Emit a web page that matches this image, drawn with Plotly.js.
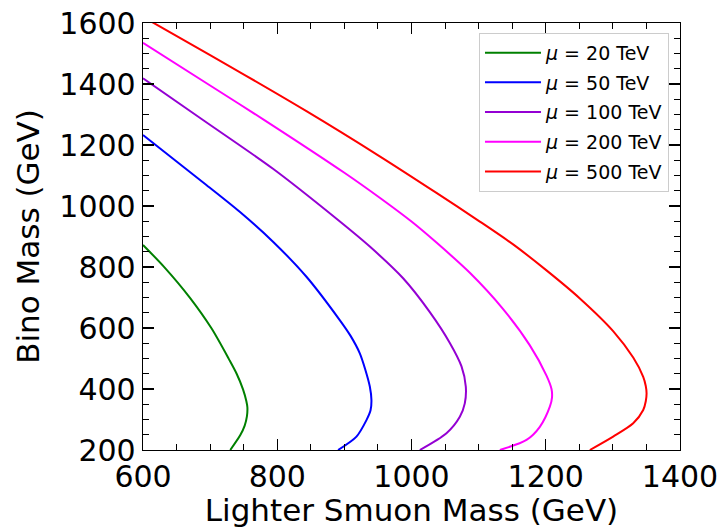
<!DOCTYPE html>
<html>
<head>
<meta charset="utf-8">
<script src="https://cdn.plot.ly/plotly-3.0.1.min.js"></script>
<style>html,body{margin:0;padding:0;background:#fff;}</style>
</head>
<body>
<div id="chart" style="width:721px;height:528px;"></div>
<script>
// Lighter smuon mass (GeV) vs Bino mass (GeV) for each mu
const mu20_x = [600, 632, 670, 702, 728, 739.5, 749, 754, 755.5, 754.8, 751.5, 745, 730];
const mu20_y = [872, 799, 699, 599, 498, 450, 399, 360, 340, 310, 280, 249, 200];

const mu50_x = [600, 694.4, 744.1, 793.7, 843.5, 893.1, 909, 923, 931, 937.9, 940.3, 939, 932.9, 918, 890.6];
const mu50_y = [1233, 1069, 981, 883, 768, 626, 575, 517, 465, 408, 364, 330, 298, 244, 200];

const mu100_x = [600, 689.4, 793.7, 890.6, 937.9, 987.5, 1027.3, 1057.1, 1074.5, 1080.9, 1079.4, 1072, 1052.1, 1012.4];
const mu100_y = [1419, 1282, 1122, 954, 867, 763, 652, 551, 474, 408, 353, 309, 255, 200];

const mu200_x = [600, 700, 781.4, 900, 952.7, 1000, 1037.2, 1086.9, 1136.5, 1176.3, 1201.1, 1208.6, 1209.3, 1206.1, 1191.2, 1171.3, 1131.6];
const mu200_y = [1535, 1395, 1281, 1109, 1027, 949, 880, 781, 662, 543, 444, 400, 372, 342, 276, 233, 200];

const mu500_x = [600, 700, 843.5, 952.7, 1037.2, 1101.8, 1151.4, 1201.1, 1250.8, 1300.4, 1330.3, 1345.2, 1349, 1350.2, 1349, 1345.2, 1330.3, 1300.4, 1265.7];
const mu500_y = [1620, 1495, 1311, 1163, 1043, 949, 874, 789, 697, 590, 503, 440, 410, 386, 360, 331, 287.5, 244, 200];

const seriesNames = ["<i>μ</i> = 20 TeV", "<i>μ</i> = 50 TeV", "<i>μ</i> = 100 TeV", "<i>μ</i> = 200 TeV", "<i>μ</i> = 500 TeV"];
const seriesX = [mu20_x, mu50_x, mu100_x, mu200_x, mu500_x];
const seriesY = [mu20_y, mu50_y, mu100_y, mu200_y, mu500_y];
const colors = ["#008000", "#0000ff", "#9400d3", "#ff00ff", "#ff0000"];

const traces = seriesX.map((xs, i) => ({
  x: xs, y: seriesY[i], type: "scatter", mode: "lines",
  name: seriesNames[i], legendgroup: "g" + i,
  line: {color: colors[i], width: 2, shape: "spline", smoothing: 0.8, simplify: false}
}));

const font = "DejaVu Sans, sans-serif";
const axisCommon = {
  showgrid: false, zeroline: false,
  showline: true, linecolor: "#000", linewidth: 1.3, mirror: "ticks",
  ticks: "inside", ticklen: 11, tickwidth: 1.3, tickcolor: "#000",
  tickfont: {family: font, size: 30, color: "#000"},
  minor: {ticks: "inside", ticklen: 6, tickwidth: 1.1, tickcolor: "#000", dtick: 50, showgrid: false},
  automargin: false
};

const layout = {
  width: 721, height: 528,
  margin: {l: 143, r: 41, t: 23, b: 78},
  paper_bgcolor: "#fff", plot_bgcolor: "#fff",
  showlegend: true,
  xaxis: Object.assign({}, axisCommon, {
    range: [600, 1400], dtick: 200, tick0: 600,
    title: {text: "Lighter Smuon Mass (GeV)", font: {family: font, size: 31, color: "#000"}, standoff: 10}
  }),
  yaxis: Object.assign({}, axisCommon, {
    range: [200, 1600], dtick: 200, tick0: 200,
    title: {text: "Bino Mass (GeV)", font: {family: font, size: 31, color: "#000"}, standoff: 10}
  }),
  legend: {
    x: 0.9795, y: 0.977, xanchor: "right", yanchor: "top",
    bgcolor: "rgba(255,255,255,0.8)", bordercolor: "#cccccc", borderwidth: 1,
    font: {family: font, size: 19, color: "#000"},
    itemwidth: 56,
    traceorder: "grouped", tracegroupgap: 2
  }
};

Plotly.newPlot("chart", traces, layout, {displayModeBar: false, staticPlot: true});
</script>
</body>
</html>
